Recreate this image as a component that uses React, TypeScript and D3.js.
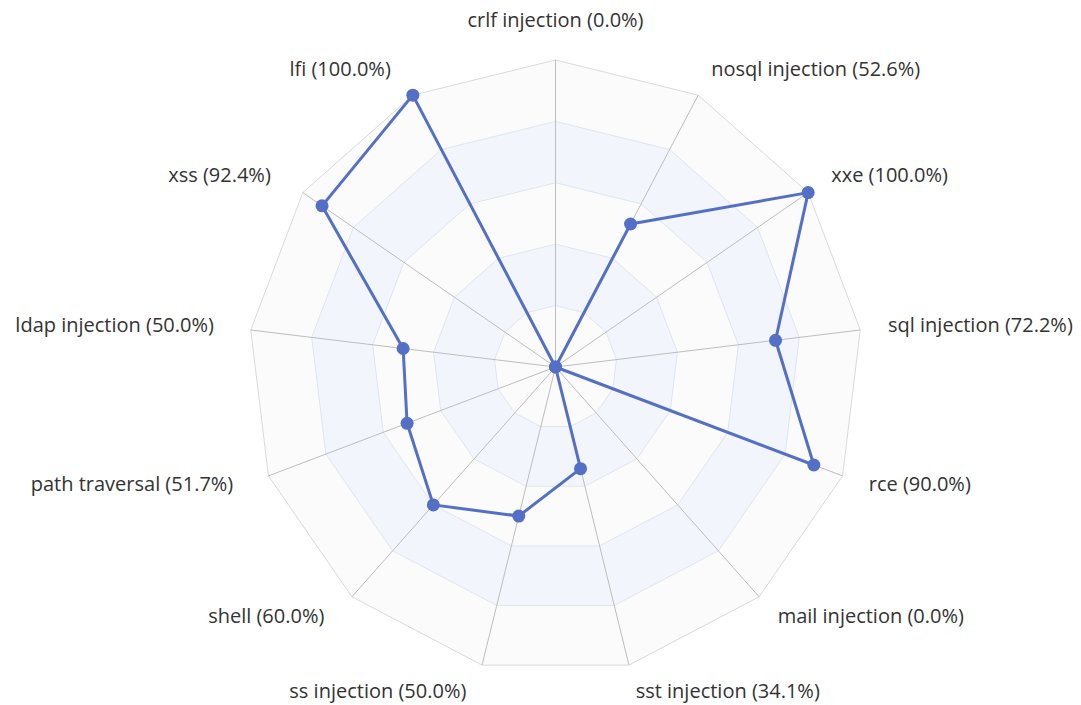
import React from "react";
import * as d3 from "d3";

const indicators: string[] = [
  "crlf injection",
  "nosql injection",
  "xxe",
  "sql injection",
  "rce",
  "mail injection",
  "sst injection",
  "ss injection",
  "shell",
  "path traversal",
  "ldap injection",
  "xss",
  "lfi",
];
const values: number[] = [0.0, 52.6, 100.0, 72.2, 90.0, 0.0, 34.1, 50.0, 60.0, 51.7, 50.0, 92.4, 100.0];
const maxValue = 100;
const splitLevels = [1, 2, 3, 4, 5];

const W = 1081;
const H = 705;
const cx = 555.5;
const cy = 367;
const R = 307;
const nameGap = 28;
const endPad = 9;
const fontSize = 20;

export default function App() {
  const n = indicators.length;
  const angle = d3.scaleLinear().domain([0, n]).range([0, 2 * Math.PI]);
  const rScale = d3.scaleLinear().domain([0, maxValue]).range([0, R]);
  const pt = (i: number, r: number): [number, number] => {
    const a = angle(i);
    return [cx + r * Math.sin(a), cy - r * Math.cos(a)];
  };
  const ringPts = (lvl: number) => d3.range(n).map((i) => pt(i, (R * lvl) / splitLevels.length));
  const poly = (pts: [number, number][]) => "M" + pts.map((p) => p.join(",")).join("L") + "Z";

  const areas = splitLevels.map((lvl) => {
    const outer = ringPts(lvl);
    const inner = lvl > 1 ? ringPts(lvl - 1) : null;
    let d = poly(outer);
    if (inner) d += poly(inner.slice().reverse());
    return { lvl, d };
  });

  const dataPts = values.map((v, i) => pt(i, rScale(v)));
  const line = d3.line<[number, number]>().curve(d3.curveLinearClosed);

  return (
    <svg width={W} height={H} style={{ position: "absolute", left: 0, top: 0, background: "#fff" }}>
      <g>
        {areas.map((a) => (
          <path key={a.lvl} d={a.d} fill={a.lvl % 2 === 0 ? "#f2f5fb" : "#fbfbfc"} fillRule="evenodd" />
        ))}
        {splitLevels.map((lvl) => (
          <path
            key={"s" + lvl}
            d={poly(ringPts(lvl))}
            fill="none"
            stroke={lvl === splitLevels.length ? "#d9dadf" : "#dfe5f1"}
            strokeWidth={1}
          />
        ))}
        {d3.range(n).map((i) => {
          const [x, y] = pt(i, R);
          return <line key={"ax" + i} x1={cx} y1={cy} x2={x} y2={y} stroke="#bdbdbd" strokeWidth={1} />;
        })}
      </g>
      <path d={line(dataPts) || ""} fill="none" stroke="#5470c6" strokeWidth={3} strokeLinejoin="round" />
      {dataPts.map((p, i) => (
        <circle key={"c" + i} cx={p[0]} cy={p[1]} r={6.5} fill="#5470c6" />
      ))}
      {indicators.map((name, i) => {
        const a = angle(i);
        const sx = Math.sin(a);
        const [x, y] = pt(i, R + nameGap);
        let anchor: "start" | "middle" | "end" = "middle";
        let xx = x;
        let yy = y + fontSize * 0.275;
        if (Math.abs(sx) < 0.05) {
          anchor = "middle";
          yy = Math.cos(a) > 0 ? y - fontSize * 0.25 : y + fontSize * 0.8;
        } else if (sx > 0) {
          anchor = "start";
        } else {
          anchor = "end";
          xx = x - endPad;
        }
        return (
          <text
            key={"t" + i}
            x={xx}
            y={yy}
            textAnchor={anchor}
            fontFamily="'Open Sans', sans-serif"
            fontSize={fontSize}
            fill="#333"
          >
            {`${name} (${values[i].toFixed(1)}%)`}
          </text>
        );
      })}
    </svg>
  );
}
